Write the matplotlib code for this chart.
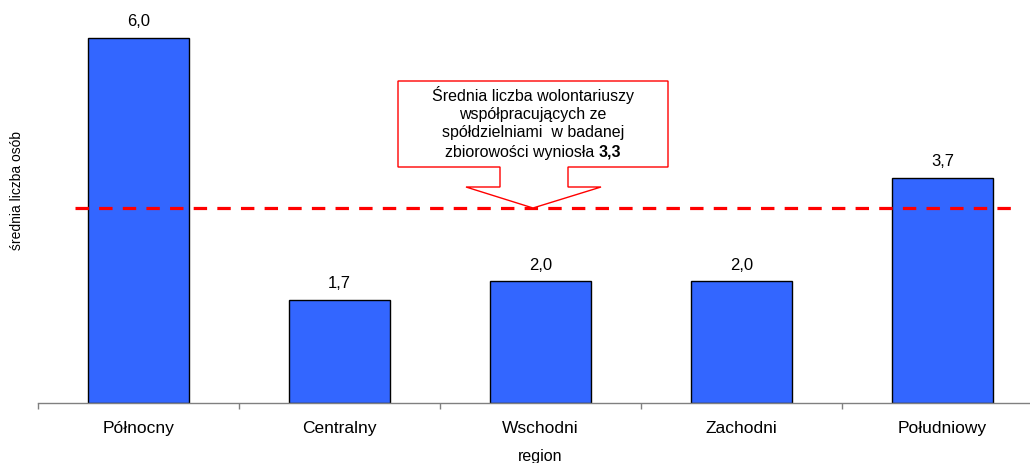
import matplotlib
matplotlib.use("Agg")
import matplotlib.pyplot as plt
from matplotlib.patches import Polygon

plt.rcParams['font.family'] = ['Liberation Sans', 'DejaVu Sans']

categories = ["Północny", "Centralny", "Wschodni", "Zachodni", "Południowy"]
values = [6.0, 1.7, 2.0, 2.0, 3.7]
value_labels = ["6,0", "1,7", "2,0", "2,0", "3,7"]
mean_line_level = 3.2
callout_lines = ["Średnia liczba wolontariuszy", "współpracujących ze",
                 "spółdzielniami  w badanej"]
callout_last = "zbiorowości wyniosła "
callout_value = "3,3"

W, H = 1030, 464
fig = plt.figure(figsize=(W / 100, H / 100), dpi=100)
ax = fig.add_axes([38 / W, 60 / H, 1005 / W, 404 / H])
ax.set_xlim(-0.5, 4.5)
ax.set_ylim(0, 404 / 60.8)

x = list(range(len(categories)))
ax.bar(x, values, width=0.5, color="#3366FF", edgecolor="black", linewidth=1, zorder=2)
for xi, v, lab in zip(x, values, value_labels):
    ax.annotate(lab, (xi, v), xytext=(0, 7), textcoords="offset points",
                ha="center", va="bottom", fontsize=12)

for s in ["left", "top", "right"]:
    ax.spines[s].set_visible(False)
ax.spines["bottom"].set_color("#808080")
ax.spines["bottom"].set_linewidth(1)
ax.set_yticks([])
ax.set_xticks(x)
ax.set_xticklabels(categories, fontsize=12.5)
ax.set_xticks([i - 0.5 for i in range(len(categories) + 1)], minor=True)
ax.tick_params(axis="x", which="major", length=0, pad=12)
ax.tick_params(axis="x", which="minor", length=4, width=1, color="#808080", direction="out")

# dashed mean line
x0 = (75 - 38) / 201 - 0.5
x1 = (1018 - 38) / 201 - 0.5
ax.plot([x0, x1], [mean_line_level, mean_line_level], color="#FF0000", lw=2.3,
        dashes=(4.2, 3.2), zorder=3)

# callout shape (figure pixel coords)
pts = [(398, 82), (668, 82), (668, 168), (568, 168), (568, 188), (601, 188),
       (533, 209), (466, 188), (500, 188), (500, 168), (398, 168)]
poly = Polygon([(px / W, 1 - py / H) for px, py in pts], closed=True,
               facecolor="white", edgecolor="#FF0000", lw=1,
               transform=fig.transFigure, zorder=5)
fig.patches.append(poly)

fs_c = 11.5
line_y = [95, 114, 133]
for ly, t in zip(line_y, callout_lines):
    fig.text(533 / W, 1 - ly / H, t, ha="center", va="center", fontsize=fs_c, zorder=6)

fig.canvas.draw()
r = fig.canvas.get_renderer()
t1 = fig.text(0, 0, callout_last, fontsize=fs_c, zorder=6)
t2 = fig.text(0, 0, callout_value, fontsize=fs_c, fontweight="bold", zorder=6)
w1 = t1.get_window_extent(r).width
w2 = t2.get_window_extent(r).width
start = 533 - (w1 + w2) / 2
t1.set_position((start / W, 1 - 152 / H)); t1.set_va("center"); t1.set_ha("left")
t2.set_position(((start + w1) / W, 1 - 152 / H)); t2.set_va("center"); t2.set_ha("left")

fig.text(17 / W, 1 - 190 / H, "średnia liczba osób", rotation=90, ha="center", va="center", fontsize=10)
fig.text(540 / W, 1 - 457 / H, "region", ha="center", va="center", fontsize=11.5)

fig.savefig("out.png", dpi=100)
